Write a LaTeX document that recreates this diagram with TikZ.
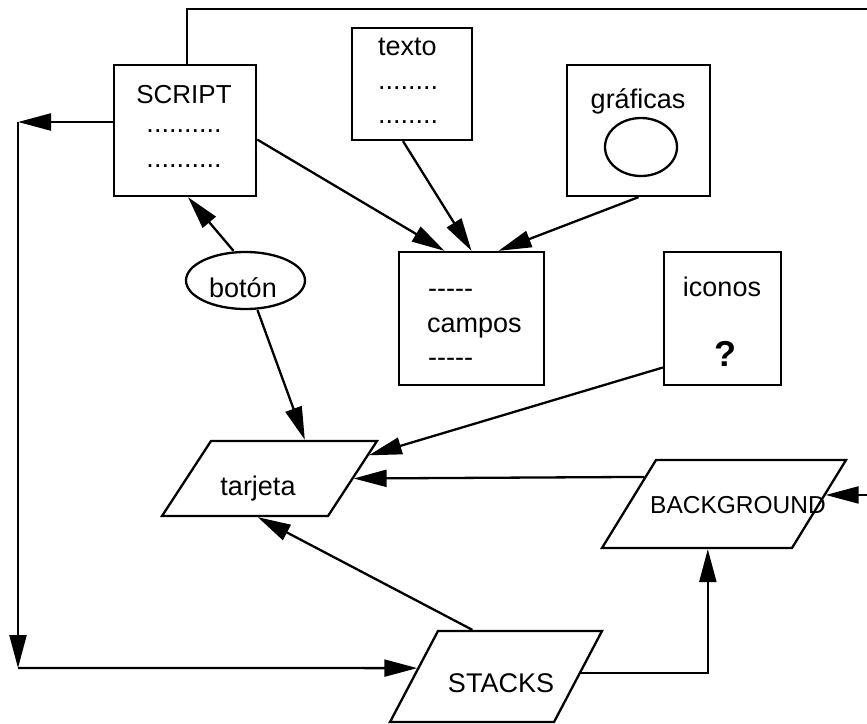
\documentclass[tikz,border=0pt]{standalone}
\usepackage{fontspec}
\setmainfont{Liberation Sans}
\usetikzlibrary{arrows.meta,calc,shapes.geometric}

\tikzset{
  linea/.style={line width=2.3pt},
  flecha/.style={linea,-{Triangle[length=33pt,width=17pt]}},
  caja/.style={draw,linea,rectangle,inner sep=0pt},
  paralelo/.style={caja,transform shape,xslant=#1},
  rotulo/.style={inner sep=0pt,anchor=base,font=\fontsize{27}{32}\selectfont},
}
\newcommand{\guiones}{-\kern0pt-\kern0pt-\kern0pt-\kern0pt-}

\begin{document}
\begin{tikzpicture}[x=1pt,y=-1pt]
\useasboundingbox (0,0) rectangle (867,723);

% cajas
\node[caja,minimum width=142pt,minimum height=131pt] (script) at (185,130.5) {};
\node[caja,minimum width=120pt,minimum height=112pt] (texto) at (412,84) {};
\node[caja,minimum width=143pt,minimum height=131pt] (graficas) at (638.5,130.5) {};
\node[caja,minimum width=145pt,minimum height=133pt] (campos) at (471.5,318.5) {};
\node[caja,minimum width=117pt,minimum height=133pt] (iconos) at (722.5,318.5) {};
\node[draw,linea,ellipse,inner sep=0pt,minimum width=119pt,minimum height=57pt] (boton) at (245.5,280.5) {};
\node[draw,linea,ellipse,inner sep=0pt,minimum width=72pt,minimum height=58pt] (circulo) at (641,147) {};

% paralelogramos
\node[paralelo=0.653,minimum width=166pt,minimum height=75pt] (tarjeta) at (269.5,478.5) {};
\node[paralelo=0.614,minimum width=190pt,minimum height=88pt] (background) at (724,504) {};
\node[paralelo=0.527,minimum width=164pt,minimum height=91pt] (stacks) at (496,676.5) {};

% textos
\node[rotulo,font=\fontsize{26}{30}\selectfont] (scriptT) at (184,103) {SCRIPT};
\node[rotulo] (scriptA) at (184,132) {..........};
\node[rotulo] (scriptB) at (184,167) {..........};
\node[rotulo,anchor=base west] (textoT) at (378,55) {texto};
\node[rotulo,anchor=base west] (textoA) at (378,89) {........};
\node[rotulo,anchor=base west] (textoB) at (378,123) {........};
\node[rotulo] (graficasT) at (638,108) {gráficas};
\node[rotulo,anchor=base west] (camposA) at (428,297) {\guiones};
\node[rotulo,anchor=base west] (camposT) at (427,332) {campos};
\node[rotulo,anchor=base west] (camposB) at (428,366) {\guiones};
\node[rotulo] (iconosT) at (722,296) {iconos};
\node[rotulo,font=\fontsize{36}{40}\selectfont\bfseries] (iconosP) at (725,366) {?};
\node[rotulo] (botonT) at (243,297) {botón};
\node[rotulo] (tarjetaT) at (258,495) {tarjeta};
\node[rotulo,font=\fontsize{24.5}{30}\selectfont] (backgroundT) at (738,513) {BACKGROUND};
\node[rotulo] (stacksT) at (501,692) {STACKS};

% puntos de paso
\coordinate (izq) at (18,122);
\coordinate (abajo) at (18,668);
\coordinate (esquina) at (890,9);
\coordinate (bgDer) at ($(background.north east)!0.4!(background.south east)$);

% flechas
\draw[flecha] ([yshift=-9pt]script.east) -- ([xshift=-27pt]campos.north);
\draw[flecha] ([xshift=-9pt]texto.south) -- (campos.north);
\draw[flecha] (graficas.south) -- ([xshift=27pt]campos.north);
\draw[flecha] ([xshift=-12pt]boton.north) -- ([xshift=3pt]script.south);
\draw[flecha] ([xshift=12pt]boton.south) -- ($(tarjeta.north west)!0.56!(tarjeta.north east)$);
\draw[flecha] ([yshift=-49pt]iconos.west) -- ($(tarjeta.north east)!0.2!(tarjeta.south east)$);
\draw[flecha] ($(background.north west)!0.2!(background.south west)$) -- (tarjeta.east);
\draw[flecha] ($(stacks.north west)!0.21!(stacks.north east)$)
  -- ($(tarjeta.south west)!0.58!(tarjeta.south east)$);
\draw[flecha] ($(stacks.north east)!0.46!(stacks.south east)$)
  -| ($(background.south west)!0.56!(background.south east)$);
\draw[flecha] ([xshift=2pt]script.north) |- (esquina) |- (bgDer);
\draw[flecha] ([yshift=8.5pt]script.west) -- (izq);
\draw[flecha] (izq) -- (abajo);
\draw[flecha] (abajo) -- ($(stacks.north west)!0.41!(stacks.south west)$);

\end{tikzpicture}
\end{document}
